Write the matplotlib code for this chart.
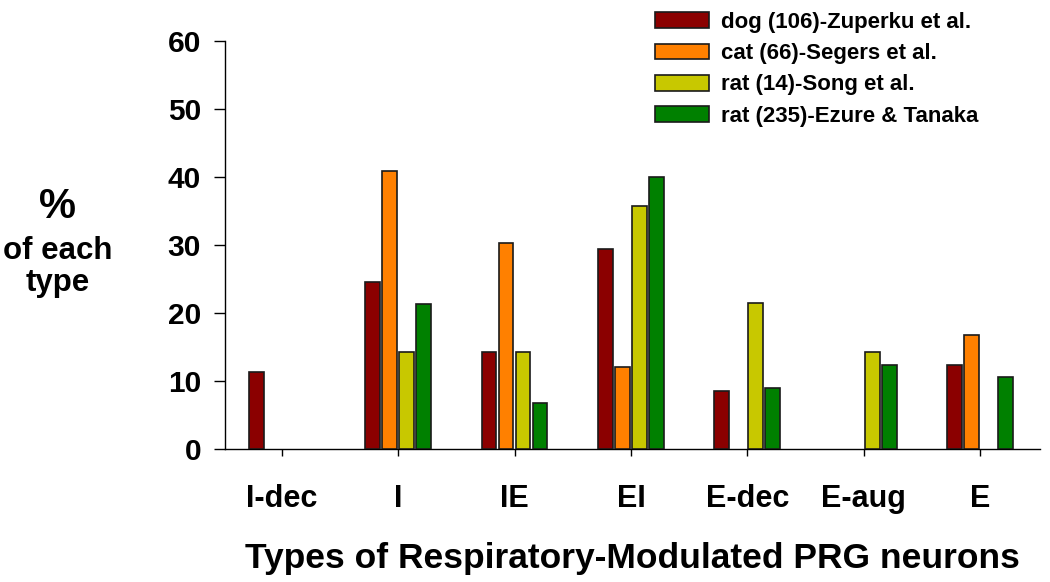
import matplotlib
matplotlib.use("Agg")
import matplotlib.pyplot as plt
import numpy as np

plt.rcParams['font.family'] = ['Liberation Sans', 'DejaVu Sans']
plt.rcParams['font.weight'] = 'bold'

categories = ["I-dec", "I", "IE", "EI", "E-dec", "E-aug", "E"]
series_names = ["dog (106)-Zuperku et al.", "cat (66)-Segers et al.",
                "rat (14)-Song et al.", "rat (235)-Ezure & Tanaka"]
dog = [11.3, 24.5, 14.2, 29.4, 8.5, 0, 12.3]
cat = [0, 40.9, 30.3, 12.1, 0, 0, 16.7]
rat_song = [0, 14.3, 14.3, 35.7, 21.4, 14.3, 0]
rat_ezure = [0, 21.3, 6.8, 40.0, 8.9, 12.3, 10.6]
colors = ["#8B0000", "#FF8000", "#C8C800", "#008000"]
yticks = [0, 10, 20, 30, 40, 50, 60]

fig = plt.figure(figsize=(10.5, 5.82), dpi=100)
ax = fig.add_axes([0.214, 0.2285, 0.776, 0.701])

x = np.arange(len(categories))
pitch = 0.146
width = 0.128
all_series = [dog, cat, rat_song, rat_ezure]
handles = []
for i, (vals, c, name) in enumerate(zip(all_series, colors, series_names)):
    offs = (i - 1.5) * pitch
    v = np.array(vals, dtype=float)
    mask = v > 0
    b = ax.bar(x[mask] + offs, v[mask], width=width, color=c,
               edgecolor="#1a1a1a", linewidth=1.2, label=name, zorder=3)
    handles.append(b)

ax.set_xlim(-0.49, 6.51)
ax.set_ylim(0, 60)
ax.set_yticks(yticks)
ax.set_yticklabels([str(t) for t in yticks], fontsize=21.5, fontweight='bold')
ax.set_xticks(x)
ax.set_xticklabels(categories, fontsize=22, fontweight='bold')
ax.tick_params(axis='y', length=8, width=1, pad=9)
ax.tick_params(axis='x', length=5, width=1, pad=20)
for s in ['top', 'right']:
    ax.spines[s].set_visible(False)
ax.spines['left'].set_linewidth(1)
ax.spines['bottom'].set_linewidth(1)

ax.set_xlabel("Types of Respiratory-Modulated PRG neurons", fontsize=25.5,
              fontweight='bold', labelpad=20)

fig.text(58/1050, 1 - 207/582, "%", fontsize=30, fontweight='bold',
         ha='center', va='center')
fig.text(58/1050, 1 - 251/582, "of each", fontsize=22.5, fontweight='bold',
         ha='center', va='center')
fig.text(58/1050, 1 - 283/582, "type", fontsize=22.5, fontweight='bold',
         ha='center', va='center')

leg = fig.legend(handles=handles, labels=series_names, loc='upper left',
                 bbox_to_anchor=(655/1050, 1 - 12/582), frameon=False,
                 fontsize=16, handlelength=2.45, handleheight=0.72,
                 handletextpad=0.5, labelspacing=0.46, borderaxespad=0,
                 borderpad=0)
for t in leg.get_texts():
    t.set_fontweight('bold')

fig.savefig("out.png", dpi=100)
